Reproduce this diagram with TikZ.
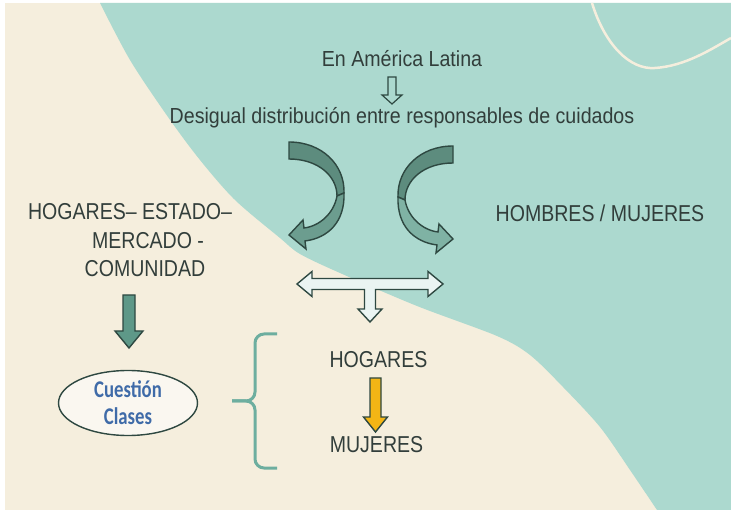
\documentclass[tikz,border=0pt]{standalone}
\usepackage{fontspec}
\setmainfont{Liberation Sans}
\newfontfamily\toparial{Liberation Sans}[FakeStretch=0.9]
\newfontfamily\narrowarial{Liberation Sans}[FakeStretch=0.85]
\newfontfamily\calibri{Carlito}[FakeStretch=0.78]
\usetikzlibrary{shapes.geometric}

\definecolor{cream}{HTML}{F5EEDD}
\definecolor{seafoam}{HTML}{ACD9CF}
\definecolor{ink}{HTML}{323E3B}
\definecolor{edge}{HTML}{2E4841}
\definecolor{armdark}{HTML}{5D8C7E}
\definecolor{armmid}{HTML}{6C9D8F}
\definecolor{armlight}{HTML}{7FB2A4}
\definecolor{tbar}{HTML}{EAF4F2}
\definecolor{downfill}{HTML}{5E9888}
\definecolor{gold}{HTML}{F3B515}
\definecolor{bracecol}{HTML}{6DAE9F}
\definecolor{oval}{HTML}{FAF7F0}
\definecolor{clase}{HTML}{3F6BA8}

\begin{document}
\begin{tikzpicture}[x=1pt,y=-1pt,
            label/.style={font=\narrowarial\fontsize{23}{27}\selectfont, text=ink,
                anchor=base, inner sep=0pt},
            toplabel/.style={label, font=\toparial\fontsize{21.8}{26}\selectfont},
            blockarrow/.style={draw=edge, line width=1.4pt, line join=miter}]
            \useasboundingbox (0,0) rectangle (731,510);
            \fill[white] (0,0) rectangle (731,510);
            \fill[cream] (5,3) rectangle (731,510);
            \fill[seafoam] (731,3) -- (731,510) -- plot[smooth] coordinates {(657,510) (630,470)
                (600,427) (563,387) (530,355) (497,336) (417,306) (340,273) (300,254) (280,238)
                (235,200) (200,160) (168,117) (130,60) (100,3)} -- cycle;
            \draw[cream, line width=2.5pt] (592,3) .. controls (605,45) and (630,70) .. (655,68)
                .. controls (685,66) and (710,50) .. (731,38);

            \node[toplabel] (amer) at (402,67) {En América Latina};
            \node[toplabel] (desig) at (402,124) {Desigual distribución entre responsables de cuidados};
            \node[label] (hm) at (600,222) {HOMBRES / MUJERES};
            \node[label] (hem1) at (130,220) {HOGARES– ESTADO–};
            \node[label] (hem2) at (148,249) {MERCADO -};
            \node[label] (hem3) at (145,277) {COMUNIDAD};
            \node[label] (hog) at (378.5,368) {HOGARES};
            \node[label] (muj) at (376.5,452) {MUJERES};
            \node[ellipse, draw=edge, fill=oval, line width=1.4pt, minimum width=139pt,
                minimum height=65pt, inner sep=0pt, align=center, text=clase,
                font=\calibri\bfseries\fontsize{24}{27}\selectfont] (clases) at (128,403) {Cuestión\\Clases};

            \draw[edge, line width=1.2pt] (388,77) -- (396,77) -- (396,95) -- (402,95) -- (392,104)
                -- (382,95) -- (388,95) -- cycle;

            \foreach \s/\c/\dy in {1/armmid/0, -1/armlight/4}{
                \begin{scope}[xshift=371pt, yshift=-\dy pt, xscale=\s]
                    \filldraw[blockarrow, fill=armdark] (-82,142) .. controls (-49,142) and (-26,165) .. (-27,193)
                        -- (-34,196) .. controls (-34,176) and (-53,159) .. (-82,159) -- cycle;
                    \filldraw[blockarrow, fill=\c] (-27,193) .. controls (-26,222) and (-43,238) .. (-66,241)
                        -- (-65,249) -- (-82,235) -- (-68,220) -- (-67,228)
                        .. controls (-51,226) and (-37,213) .. (-34,196) -- cycle;
                \end{scope}
            }

            \filldraw[blockarrow, fill=tbar] (297,284) -- (312,271.5) -- (312,278.5) -- (428,278.5)
                -- (428,271.5) -- (443,284) -- (428,296.5) -- (428,289.5) -- (375.5,289.5) -- (375.5,309)
                -- (382,309) -- (370,322) -- (358,309) -- (364.5,309) -- (364.5,289.5) -- (312,289.5)
                -- (312,296.5) -- cycle;
            \filldraw[blockarrow, fill=downfill] (123,295) -- (135,295) -- (135,331) -- (143,331)
                -- (129,348) -- (115,331) -- (123,331) -- cycle;
            \filldraw[blockarrow, fill=gold] (370,378) -- (381,378) -- (381,417) -- (387.5,417)
                -- (375.5,432) -- (363.5,417) -- (370,417) -- cycle;

            \draw[bracecol, line width=3pt, rounded corners=9pt] (277,334) -- (255,334) -- (255,401)
                -- (232,401);
            \draw[bracecol, line width=3pt, rounded corners=9pt] (232,401) -- (255,401) -- (255,468)
                -- (277,468);
        \end{tikzpicture}
\end{document}
